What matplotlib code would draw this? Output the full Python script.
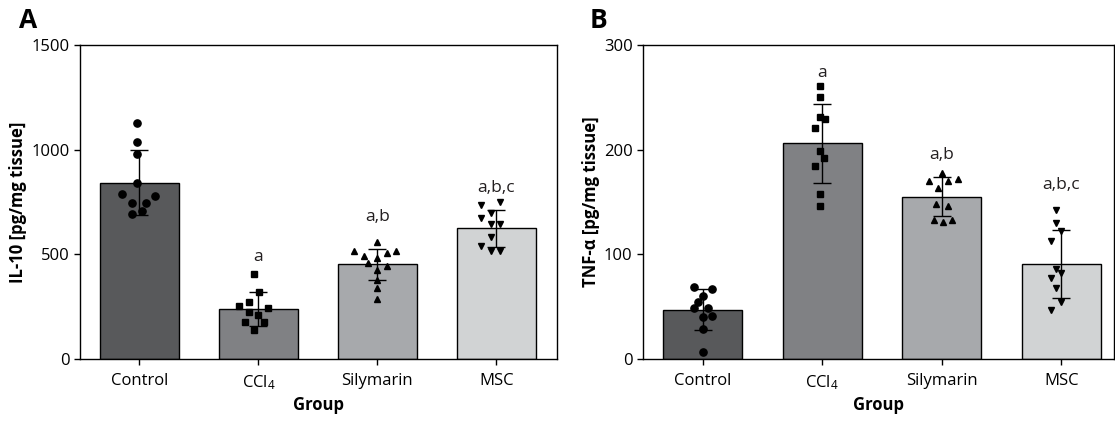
import matplotlib
matplotlib.use("Agg")
import matplotlib.pyplot as plt
import numpy as np

plt.rcParams['font.family'] = ['Open Sans', 'DejaVu Sans']
plt.rcParams['mathtext.fontset'] = 'custom'
plt.rcParams['mathtext.rm'] = 'Open Sans'
plt.rcParams['mathtext.it'] = 'Open Sans:italic'
plt.rcParams['mathtext.bf'] = 'Open Sans:bold'

groups = ['Control', 'CCl$_{4}$', 'Silymarin', 'MSC']

# Panel A: IL-10
il10_mean = [843, 240, 452, 624]
il10_sd = [154, 80, 74, 90]
il10_points = [
    [1128, 1035, 981, 840, 790, 778, 747, 744, 709, 692],
    [408, 319, 273, 252, 246, 225, 208, 176, 176, 138],
    [557, 516, 516, 505, 493, 482, 460, 443, 427, 376, 340, 286],
    [738, 749, 698, 674, 643, 643, 584, 540, 516, 516],
]
il10_letters = ['', 'a', 'a,b', 'a,b,c']

# Panel B: TNF-alpha
tnf_mean = [47, 206, 155, 91]
tnf_sd = [19.5, 38, 18.5, 32.5]
tnf_points = [
    [68.9, 67, 60.3, 54.6, 48.3, 48.9, 41.3, 39.7, 28.3, 6.3],
    [261, 250, 231, 229, 221, 199, 192, 184, 158, 146],
    [178, 170, 170.5, 172, 163, 148, 146, 133, 131, 133],
    [142, 129.5, 122, 113, 86, 82, 77, 68, 54, 47],
]
tnf_letters = ['', 'a', 'a,b', 'a,b,c']

# layout (pixel jitter offsets of the scatter points, letter positions)
il10_jitter = [
    [-2, -2, -2, -2, -17, 16, -7, 7, 3, -7],
    [-4, 1, -9, -19, 10, -9, 0, -13, 6, -4],
    [0, -23, 19, 10, -13, 0, -9, 10, 0, 0, 0, 0],
    [-15, 4, -5, -15, -5, 4, -5, -15, -5, 4],
]
tnf_jitter = [
    [-9, 9, 0, -5, -9, 5, 9, 0, 0, 0],
    [-2, -2, -2, 3, -7, -2, 2, -7, -2, -2],
    [0, -13, 6, 16, -4, -6, 6, -8, 1, 10],
    [-5, -5, 0, -10, -5, 0, -10, -5, 0, -10],
]
il10_letter_y = [0, 486, 676, 819]
tnf_letter_y = [0, 273, 195, 166]

colors = ['#58595b', '#808184', '#a7a9ac', '#d1d3d4']
markers = ['o', 's', '^', 'v']
msizes = [5.2, 5.0, 4.6, 4.6]

W, H = 1115, 423
fig = plt.figure(figsize=(W / 100, H / 100), dpi=100)

def px_axes(l, r, t, b):
    return fig.add_axes([l / W, 1 - b / H, (r - l) / W, (b - t) / H])

axA = px_axes(80, 557, 45, 359)
axB = px_axes(643, 1114, 45, 359)

PX_PER_UNIT = 119.0

def draw(ax, means, sds, pts, jit, letters, letter_y, ylim, yticks, ylabel, xlim):
    x = np.arange(len(groups))
    ax.bar(x, means, width=0.66, color=colors, edgecolor='black', linewidth=1.0, zorder=1)
    ax.errorbar(x, means, yerr=sds, fmt='none', ecolor='black', elinewidth=1.0,
                capsize=6.5, capthick=1.0, zorder=3)
    for i in range(len(groups)):
        xs = i + np.array(jit[i]) / PX_PER_UNIT
        ax.plot(xs, pts[i], linestyle='none', marker=markers[i], markersize=msizes[i],
                color='black', zorder=4)
        if letters[i]:
            ax.text(i, letter_y[i], letters[i], ha='center', va='center', fontsize=12.5,
                    color='#231f20')
    ax.set_xlim(*xlim)
    ax.set_ylim(*ylim)
    ax.set_yticks(yticks)
    ax.set_xticks(x)
    ax.set_xticklabels(groups, fontsize=12)
    ax.tick_params(axis='y', labelsize=12, direction='out', length=4, width=1)
    ax.tick_params(axis='x', direction='out', length=4, width=1, pad=6)
    ax.set_ylabel(ylabel, fontsize=12, fontweight='bold', labelpad=3)
    ax.set_xlabel('Group', fontsize=12, fontweight='bold', labelpad=3)
    for s in ax.spines.values():
        s.set_linewidth(1.0)
        s.set_color('black')

draw(axA, il10_mean, il10_sd, il10_points, il10_jitter, il10_letters, il10_letter_y,
     (0, 1500), [0, 500, 1000, 1500], 'IL-10 [pg/mg tissue]', (-0.5, 3.51))
draw(axB, tnf_mean, tnf_sd, tnf_points, tnf_jitter, tnf_letters, tnf_letter_y,
     (0, 300), [0, 100, 200, 300], 'TNF-α [pg/mg tissue]', (-0.5, 3.44))

fig.text(28 / W, 1 - 20 / H, 'A', fontsize=19, fontweight='bold', ha='center', va='center')
fig.text(598 / W, 1 - 20 / H, 'B', fontsize=19, fontweight='bold', ha='center', va='center')

fig.savefig('out.png', dpi=100)
